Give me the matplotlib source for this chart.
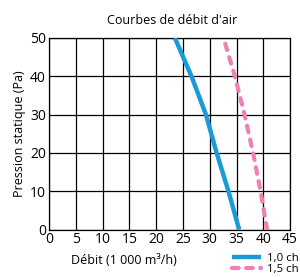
import matplotlib.pyplot as plt

plt.rcParams['font.family'] = ['Open Sans', 'DejaVu Sans']

pression = [0, 10, 20, 30, 40, 50]
debit_10 = [35.5, 33.5, 31.3, 29.3, 26.6, 23.5]
pression_15 = [0, 10, 20, 30, 40, 48.5]
debit_15 = [40.7, 39.5, 38.1, 36.5, 34.7, 32.9]

fig = plt.figure(figsize=(3.0, 2.77), dpi=100)
ax = fig.add_axes([0.163, 0.171, 0.804, 0.692])

l1, = ax.plot(debit_10, pression, color='#1a9ad6', lw=3.2,
              solid_capstyle='butt', solid_joinstyle='round', zorder=3)
l2, = ax.plot(debit_15, pression_15, color='#f07fb4', lw=3.0,
              ls=(0, (1.6, 1.8)), dash_capstyle='round', zorder=3)

ax.set_xlim(0, 45)
ax.set_ylim(0, 50)
ax.set_xticks(range(0, 50, 5))
ax.set_yticks(range(0, 60, 10))
ax.grid(True, color='black', lw=0.9)
for s in ax.spines.values():
    s.set_linewidth(0.9)
ax.tick_params(length=0, labelsize=10, pad=2)

ax.set_title("Courbes de débit d'air", fontsize=9, pad=10, x=0.51)
ax.set_xlabel("Débit (1 000 m³/h)", fontsize=9, labelpad=5, x=0.31)
ax.set_ylabel("Pression statique (Pa)", fontsize=9, labelpad=3)

fig.legend([l1, l2], ["1,0 ch", "1,5 ch"], loc='lower right',
           bbox_to_anchor=(1.03, -0.03), frameon=False, fontsize=8.2,
           handlelength=2.6, labelspacing=0.02, handletextpad=0.5)

fig.savefig("out.png", dpi=100)
